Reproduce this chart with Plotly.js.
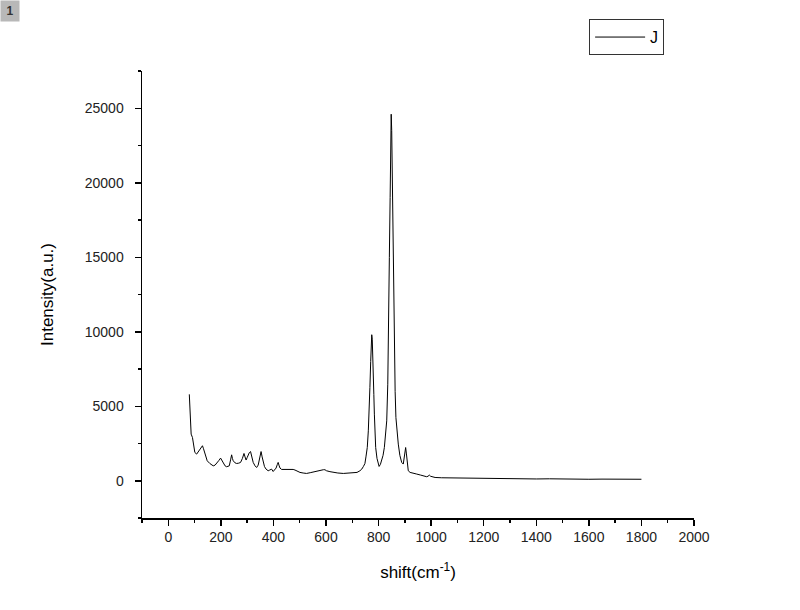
<!DOCTYPE html>
<html>
<head>
<meta charset="utf-8">
<script src="https://cdn.plot.ly/plotly-3.0.1.min.js"></script>
<style>
html,body{margin:0;padding:0;background:#fff;}
#chart{width:800px;height:610px;}
</style>
</head>
<body>
<div id="chart"></div>
<script>
const seriesName = "J";
const shift = [80,84,87,92,97,101,108,114,120,126,130,134,139,148,158,165,171,178,184,192,199,204,209,216,222,228,232,237,241,244,247,254,260,268,275,282,288,292,296,300,304,308,313,318,323,330,336,342,346,350,353,357,361,366,372,380,386,393,399,404,410,415,418,421,425,431,437,450,463,475,482,492,501,513,526,540,552,565,580,590,596,602,615,628,645,666,685,704,718,729,736,742,748,752,757,761,765,767,770,772,774,776,778,780,782,784,787,789,794,799,802,807,812,817,822,827,831,835,837,839,841,844,846,848,850,853,856,858,860,863,866,870,875,881,888,894,899,903,906,910,913,920,930,945,960,975,983,988,993,998,1005,1015,1040,1070,1110,1150,1200,1250,1300,1350,1400,1450,1500,1550,1600,1650,1700,1750,1800];
const intensity = [5800,4600,3130,2900,2300,1900,1790,1950,2140,2300,2350,2150,1900,1340,1160,1080,1000,1050,1160,1350,1520,1350,1160,1000,940,960,1000,1400,1740,1500,1340,1200,1160,1180,1230,1500,1830,1600,1390,1550,1740,1880,1960,1600,1230,1000,890,1050,1340,1700,1960,1600,1230,950,780,670,720,780,620,700,850,1100,1230,1050,850,760,760,780,780,760,720,620,560,520,490,540,600,650,710,740,740,670,610,560,520,490,500,520,560,670,780,950,1150,1600,2230,3350,4800,6250,8000,9000,9800,9500,8600,7370,5800,4470,3000,2230,1500,1120,960,1100,1340,1700,2230,3000,4020,6480,10720,13000,14970,19000,23000,24600,23500,19500,14970,11500,8260,6000,4240,3200,2460,1700,1230,1120,1600,2230,1800,1000,670,560,500,450,380,300,270,300,380,300,250,220,200,190,180,160,150,140,130,140,120,130,110,120,100,110,100,110,100];
const xTickVals = [0,200,400,600,800,1000,1200,1400,1600,1800,2000];
const xTickText = ["0","200","400","600","800","1000","1200","1400","1600","1800","2000"];
const yTickVals = [0,5000,10000,15000,20000,25000];
const yTickText = ["0","5000","10000","15000","20000","25000"];

const font = "Liberation Sans, Arial, sans-serif";
const data = [{
  x: shift, y: intensity, type: "scatter", mode: "lines",
  name: seriesName, line: {color: "#000", width: 1}
}];
const layout = {
  width: 800, height: 610,
  paper_bgcolor: "#fff", plot_bgcolor: "#fff",
  margin: {l: 142, r: 106, t: 71, b: 92},
  font: {family: font, color: "#000", size: 14},
  showlegend: true,
  legend: {
    x: 0.81, y: 1.116, xanchor: "left", yanchor: "top",
    bordercolor: "#333", borderwidth: 1, bgcolor: "#fff",
    itemwidth: 50,
    font: {family: font, size: 16, color: "#000"}
  },
  xaxis: {
    range: [-100, 2000], autorange: false,
    tickmode: "array", tickvals: xTickVals, ticktext: xTickText,
    ticks: "outside", ticklen: 6, tickwidth: 1.5, tickcolor: "#000",
    minor: {dtick: 100, tick0: 0, ticks: "outside", ticklen: 3, tickwidth: 1.5, tickcolor: "#000", showgrid: false},
    showline: true, linecolor: "#000", linewidth: 1.5, mirror: false,
    showgrid: false, zeroline: false,
    tickfont: {family: font, size: 14, color: "#222"},
    title: {text: "shift(cm<sup>-1</sup>)", font: {family: font, size: 17, color: "#000"}, standoff: 22}
  },
  yaxis: {
    range: [-2500, 27500], autorange: false,
    tickmode: "array", tickvals: yTickVals, ticktext: yTickText,
    ticks: "outside", ticklen: 6, tickwidth: 1.5, tickcolor: "#000",
    ticklabelstandoff: 8,
    minor: {dtick: 2500, tick0: 0, ticks: "outside", ticklen: 3, tickwidth: 1.5, tickcolor: "#000", showgrid: false},
    showline: true, linecolor: "#000", linewidth: 1.5, mirror: false,
    showgrid: false, zeroline: false,
    tickfont: {family: font, size: 14, color: "#222"},
    title: {text: "Intensity(a.u.)", font: {family: font, size: 17, color: "#000"}, standoff: 27}
  },
  annotations: [{
    text: "<b>1</b>", xref: "paper", yref: "paper",
    x: -142/552, y: 1 + 71/447, xanchor: "left", yanchor: "top",
    showarrow: false, bgcolor: "#b8b8b8", borderpad: 3,
    width: 12, height: 14,
    font: {family: font, size: 12, color: "#333"}
  }]
};
Plotly.newPlot("chart", data, layout, {displayModeBar: false, staticPlot: true});
</script>
</body>
</html>
